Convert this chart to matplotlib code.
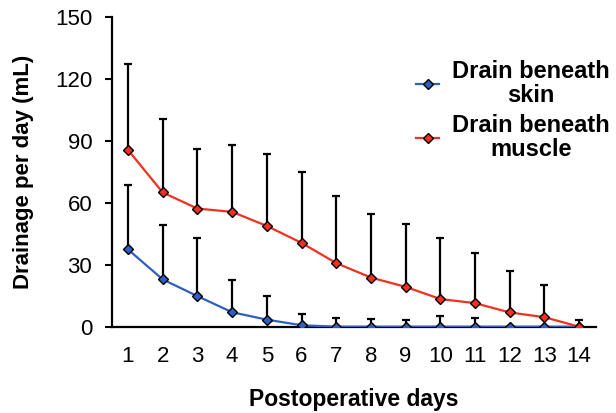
import matplotlib

matplotlib.use("Agg")
import matplotlib.pyplot as plt
import numpy as np

plt.rcParams["font.family"] = ["Liberation Sans", "DejaVu Sans"]

days = np.arange(1, 15)
skin_mean = [37.4, 22.9, 14.8, 7.0, 3.4, 0.7, 0, 0, 0, 0, 0, 0, 0, 0]
skin_sd = [31.1, 26.4, 28.2, 15.8, 11.6, 5.5, 4.2, 3.7, 3.2, 5.2, 4.2, 0, 0, 0]
muscle_mean = [85.6, 65.0, 57.2, 55.6, 48.8, 40.6, 30.8, 23.8, 19.3, 13.4, 11.4, 6.9, 4.6, 0]
muscle_sd = [41.4, 35.5, 28.8, 32.4, 34.7, 34.4, 32.5, 31.0, 30.6, 29.6, 24.4, 20.1, 15.4, 3.0]
y_ticks = [0, 30, 60, 90, 120, 150]

BLUE = "#2d5fc4"
RED = "#f2301f"

fig = plt.figure(figsize=(6.16, 4.13), dpi=100, facecolor="white")
ax = fig.add_axes([0.1813, 0.209, 0.787, 0.750])

# upper-only error bars, drawn behind the lines
for mean, sd in [(skin_mean, skin_sd), (muscle_mean, muscle_sd)]:
    ax.errorbar(
        days,
        mean,
        yerr=[np.zeros(len(sd)), sd],
        fmt="none",
        ecolor="black",
        elinewidth=1.6,
        capsize=2.6,
        capthick=1.6,
        zorder=2,
    )

ax.plot(days, skin_mean, color=BLUE, lw=1.6, marker="D", ms=4.8,
        mfc=BLUE, mec="black", mew=1.0, label="Drain beneath\nskin", zorder=3)
ax.plot(days, muscle_mean, color=RED, lw=1.6, marker="D", ms=4.8,
        mfc=RED, mec="black", mew=1.0, label="Drain beneath\nmuscle", zorder=4)

ax.set_xlim(0.53, 14.5)
ax.set_ylim(0, 150)
ax.set_xticks(days)
ax.set_yticks(y_ticks)
ax.tick_params(axis="x", length=0, pad=14, labelsize=16)
ax.tick_params(axis="y", length=5, width=1.5, direction="out", pad=9, labelsize=16)
for side in ("top", "right"):
    ax.spines[side].set_visible(False)
for side in ("left", "bottom"):
    ax.spines[side].set_linewidth(1.6)

ax.set_xlabel("Postoperative days", fontsize=16.5, fontweight="bold", labelpad=15)
ax.set_ylabel("Drainage per day (mL)", fontsize=16, fontweight="bold", labelpad=15)

leg = fig.legend(
    loc="upper left",
    bbox_to_anchor=(0.676, 0.854),
    frameon=False,
    prop={"weight": "bold", "size": 17},
    handlelength=0.95,
    handletextpad=0.55,
    labelspacing=0.3,
    borderpad=0,
    borderaxespad=0,
)
for t in leg.get_texts():
    t.set_multialignment("center")
    t.set_linespacing(1.05)

fig.savefig("out.png", dpi=100, facecolor="white")
